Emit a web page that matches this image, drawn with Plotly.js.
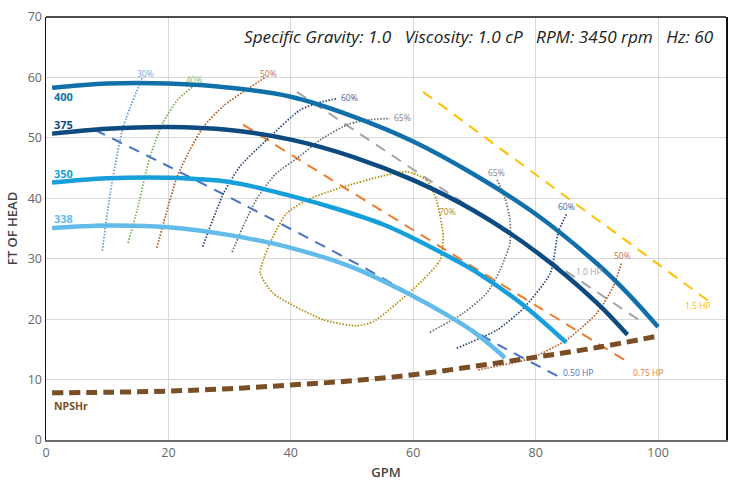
<!DOCTYPE html>
<html>
<head>
<meta charset="utf-8">
<script src="https://cdn.plot.ly/plotly-3.0.1.min.js"></script>
<style>html,body{margin:0;padding:0;background:#fff}#chart{width:740px;height:481px}</style>
</head>
<body>
<div id="chart"></div>
<script>
// Impeller head curves (GPM vs FT OF HEAD)
const imp400X = [1, 10, 20, 30, 40, 50, 60, 70, 80, 90, 95, 100];
const imp400Y = [58.3, 59.0, 59.0, 58.3, 56.8, 53.6, 49.4, 43.9, 37.4, 29.2, 24.3, 18.7];
const imp375X = [1, 10, 20, 30, 40, 50, 60, 70, 80, 90, 95];
const imp375Y = [50.7, 51.5, 51.8, 51.3, 49.7, 46.9, 43.0, 37.9, 31.2, 22.7, 17.4];
const imp350X = [1, 10, 20, 30, 40, 48, 55, 60, 65, 70, 77.5, 85];
const imp350Y = [42.6, 43.3, 43.4, 42.7, 40.4, 38.1, 35.7, 33.4, 30.8, 28.0, 22.7, 16.1];
const imp338X = [1, 10, 20, 30, 40, 50, 60, 65, 70, 75];
const imp338Y = [35.1, 35.5, 35.2, 33.9, 31.8, 28.6, 23.8, 21.0, 17.8, 13.6];

// NPSHr
const npshX = [1, 10, 20, 30, 40, 50, 60, 70, 80, 90, 100];
const npshY = [7.8, 7.9, 8.1, 8.5, 9.1, 9.8, 10.8, 12.2, 13.7, 15.3, 17.2];

// Horsepower lines
const hp050X = [8, 20, 32, 52, 74, 84.3];
const hp050Y = [51.3, 45.3, 39.1, 28.5, 15.7, 10.2];
const hp075X = [32.2, 40.7, 65.2, 95.4];
const hp075Y = [52.2, 46.8, 31.5, 12.7];
const hp100X = [41, 97.4];
const hp100Y = [57.6, 19.5];
const hp150X = [61.6, 108.5];
const hp150Y = [57.6, 22.8];

// Efficiency curves
const eff30X = [9.2, 10.5, 12.6, 15.7];
const eff30Y = [31.3, 40.9, 51.8, 59.9];
const eff40X = [13.4, 14.9, 17.0, 19.1, 21.5, 23.9];
const eff40Y = [32.6, 38.1, 46.9, 52.5, 56.3, 58.4];
const eff50aX = [18.1, 19.5, 21.4, 23.5, 25.7, 29.0, 32.2, 35.8];
const eff50aY = [31.8, 37.0, 43.5, 48.0, 51.8, 55.3, 57.6, 60.0];
const eff60aX = [25.6, 29.0, 31.7, 36.1, 41.5, 44.5, 47.6];
const eff60aY = [32.0, 40.8, 45.3, 49.7, 54.6, 55.8, 56.5];
const eff65aX = [30.4, 32.5, 34.5, 37.5, 41.5, 45.0, 49.5, 53.0, 56.2];
const eff65aY = [31.1, 36.0, 40.0, 44.0, 47.0, 49.8, 52.3, 53.0, 53.2];
const eff70X = [59.0, 62.2, 63.8, 64.9, 64.4, 61.6, 57.3, 53.5, 50.8, 45.3, 37.1, 35.0, 35.5, 37.1, 39.3, 42.6, 48.0, 54.6, 59.0];
const eff70Y = [44.4, 43.0, 39.7, 33.7, 29.8, 26.5, 22.6, 19.6, 18.9, 19.9, 24.3, 27.6, 29.8, 33.7, 37.5, 39.7, 41.7, 43.6, 44.4];
const eff65bX = [62.7, 68.2, 72.0, 74.2, 75.8, 75.8, 75.0, 73.6];
const eff65bY = [17.8, 21.0, 24.3, 28.1, 32.6, 36.4, 40.0, 43.3];
const eff60bX = [67.1, 73.7, 78.0, 82.4, 83.7, 85.1];
const eff60bY = [15.2, 18.2, 21.8, 27.6, 34.4, 37.5];
const eff50bX = [70.6, 79.1, 85.1, 90.0, 92.7, 94.1];
const eff50bY = [11.6, 13.5, 16.6, 21.0, 25.4, 29.5];

const headerText = 'Specific Gravity: 1.0   Viscosity: 1.0 cP   RPM: 3450 rpm   Hz: 60';

function ln(x, y, color, width, dash, smooth) {
  return {x: x, y: y, type: 'scatter', mode: 'lines', hoverinfo: 'skip',
    line: {color: color, width: width, dash: dash || 'solid', shape: 'spline', smoothing: smooth || 0.6}};
}
const dotDash = '1.5px,1.6px';
const hpDash = '11px,8px';

const traces = [
  ln(hp050X, hp050Y, '#4472c4', 2, hpDash),
  ln(hp075X, hp075Y, '#ed7d31', 2, hpDash),
  ln(hp100X, hp100Y, '#a5a5a5', 2, hpDash),
  ln(hp150X, hp150Y, '#ffc000', 2, hpDash),
  ln(eff30X, eff30Y, '#5b9bd5', 1.7, dotDash),
  ln(eff40X, eff40Y, '#70ad47', 1.7, dotDash),
  ln(eff50aX, eff50aY, '#b5541c', 1.7, dotDash),
  ln(eff60aX, eff60aY, '#264478', 1.7, dotDash),
  ln(eff65aX, eff65aY, '#6a6a6a', 1.7, dotDash),
  ln(eff70X, eff70Y, '#b08a00', 1.7, dotDash),
  ln(eff65bX, eff65bY, '#6a6a6a', 1.7, dotDash),
  ln(eff60bX, eff60bY, '#264478', 1.7, dotDash),
  ln(eff50bX, eff50bY, '#b5541c', 1.7, dotDash),
  ln(imp338X, imp338Y, '#63bbe9', 4.5, null, 1),
  ln(imp350X, imp350Y, '#169fdb', 4.5, null, 1),
  ln(imp375X, imp375Y, '#0d4a80', 4.5, null, 1),
  ln(imp400X, imp400Y, '#1170aa', 4.5, null, 1),
  ln(npshX, npshY, '#7a4f25', 5, '11px,6px', 1)
];

function lab(x, y, text, color, size, anchor, bold) {
  return {x: x, y: y, xref: 'x', yref: 'y', text: text, showarrow: false,
    xanchor: anchor || 'center', yanchor: 'middle',
    font: {family: 'Open Sans, Noto Sans, sans-serif', size: size, color: color, weight: bold ? 700 : 400}};
}

const annotations = [
  lab(1, 56.8, '400', '#1170aa', 11, 'left', true),
  lab(1, 52.2, '375', '#0d4a80', 11, 'left', true),
  lab(1, 44.1, '350', '#169fdb', 11, 'left', true),
  lab(1, 36.7, '338', '#63bbe9', 11, 'left', true),
  lab(1, 5.6, 'NPSHr', '#7a4f25', 10.5, 'left', true),
  lab(16.2, 60.7, '30%', '#6aaee0', 8.5),
  lab(24.3, 59.7, '40%', '#8bc06a', 8.5),
  lab(36.3, 60.7, '50%', '#c0714a', 8.5),
  lab(47.8, 56.6, '60%', '#44609a', 8.5, 'left'),
  lab(56.5, 53.4, '65%', '#7f7f7f', 8.5, 'left'),
  lab(65.6, 37.8, '70%', '#b08f2a', 8.5),
  lab(73.6, 44.2, '65%', '#7f7f7f', 8.5),
  lab(85.0, 38.6, '60%', '#44609a', 8.5),
  lab(94.2, 30.5, '50%', '#c0714a', 8.5),
  lab(86.3, 27.9, '1.0 HP', '#a5a5a5', 8.5, 'left'),
  lab(104.1, 22.2, '1.5 HP', '#ffc000', 8.5, 'left'),
  lab(84.2, 11.2, '0.50 HP', '#4472c4', 8.5, 'left'),
  lab(95.6, 11.2, '0.75 HP', '#ed7d31', 8.5, 'left'),
  {x: 0.985, y: 0.953, xref: 'paper', yref: 'paper', text: headerText, showarrow: false,
   xanchor: 'right', yanchor: 'middle',
   font: {family: 'Open Sans, Noto Sans, sans-serif', size: 17.2, color: '#222', style: 'italic'}}
];

const layout = {
  width: 740, height: 481,
  margin: {l: 46, r: 14, t: 17, b: 41},
  paper_bgcolor: '#fff', plot_bgcolor: '#fff',
  showlegend: false,
  font: {family: 'Open Sans, Noto Sans, sans-serif'},
  xaxis: {range: [0, 111.1], dtick: 20, tick0: 0, showgrid: true, gridcolor: '#d9d9d9', gridwidth: 1,
    zeroline: false, showline: true, linecolor: '#6b6b6b', linewidth: 2, ticks: '',
    tickfont: {size: 12.5, color: '#666'},
    title: {text: 'GPM', font: {size: 13, color: '#444', weight: 600}, standoff: 8}},
  yaxis: {range: [0, 70], dtick: 10, tick0: 0, showgrid: true, gridcolor: '#d9d9d9', gridwidth: 1,
    zeroline: false, showline: true, linecolor: '#111', linewidth: 1.5, mirror: true, ticks: '',
    tickfont: {size: 12.5, color: '#666'},
    title: {text: 'FT OF HEAD', font: {size: 13, color: '#444', weight: 600}, standoff: 7}},
  shapes: [{type: 'line', xref: 'paper', yref: 'paper', x0: 0, x1: 1, y0: 1, y1: 1,
    line: {color: '#111', width: 1.5}}],
  annotations: annotations
};

Plotly.newPlot('chart', traces, layout, {displayModeBar: false, staticPlot: true});
</script>
</body>
</html>
